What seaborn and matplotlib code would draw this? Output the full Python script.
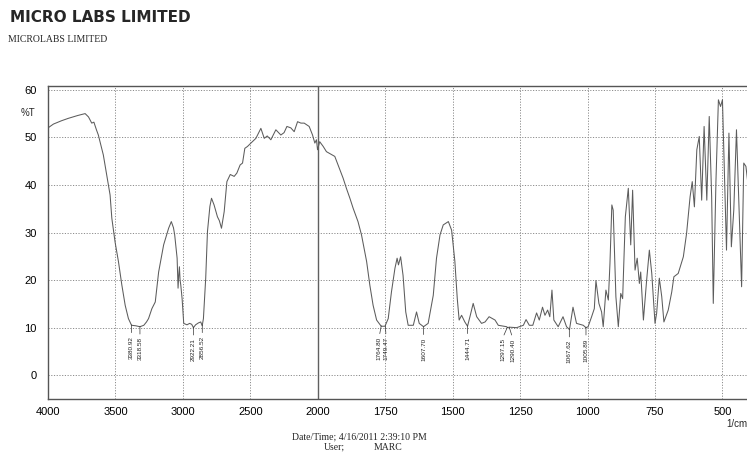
import numpy as np
import pandas as pd
import matplotlib
matplotlib.use("Agg")
import matplotlib.pyplot as plt
from matplotlib.ticker import FixedLocator
import seaborn as sns

# ---------------- data ----------------
wavenumber = [
    4000, 3960, 3900, 3850, 3780, 3725, 3700, 3676, 3660, 3640, 3627, 3590, 3565, 3540, 3527,
    3503, 3478, 3453, 3428, 3404, 3381, 3350, 3319, 3290, 3270, 3255, 3230, 3205, 3180, 3143,
    3106, 3086, 3070, 3061, 3043, 3036, 3031, 3026, 3021, 3016, 3006, 2994, 2970, 2950, 2935,
    2922, 2906, 2885, 2868, 2857, 2848, 2831, 2818, 2800, 2788, 2769, 2744, 2730, 2714, 2694,
    2674, 2649, 2620, 2600, 2576, 2558, 2541, 2521, 2496, 2459, 2422, 2397, 2375, 2348, 2311,
    2274, 2250, 2229, 2200, 2175, 2150, 2125, 2101, 2064, 2039, 2022, 2010, 2002, 1993, 1980,
    1968, 1937, 1925, 1906, 1894, 1881, 1869, 1851, 1838, 1819, 1807, 1795, 1782, 1765, 1751,
    1739, 1727, 1714, 1706, 1701, 1693, 1684, 1674, 1665, 1646, 1634, 1624, 1608, 1591, 1572,
    1560, 1547, 1535, 1516, 1504, 1492, 1483, 1476, 1467, 1455, 1445, 1436, 1424, 1411, 1393,
    1380, 1365, 1352, 1343, 1331, 1300, 1297, 1290, 1263, 1238, 1228, 1216, 1203, 1189, 1179,
    1167, 1158, 1148, 1140, 1132, 1125, 1109, 1091, 1078, 1067, 1054, 1041, 1016, 1006, 998,
    985, 975, 969, 958, 948, 942, 932, 923, 917, 910, 905, 895, 886, 877, 870,
    860, 849, 840, 833, 824, 816, 808, 803, 793, 781, 771, 762, 750, 744, 734,
    725, 717, 701, 688, 680, 664, 645, 633, 620, 612, 604, 595, 586, 577, 568,
    558, 549, 540, 534, 524, 515, 507, 500, 492, 485, 476, 467, 458, 448, 438,
    429, 421, 413, 405,
]
transmittance = [
    52.0, 52.8, 53.5, 54.0, 54.6, 55.0, 54.3, 53.0, 53.2, 51.5, 50.5, 46.3, 42.1, 37.9, 33.0,
    28.0, 23.9, 19.0, 14.7, 11.9, 10.5, 10.4, 10.2, 10.5, 11.2, 11.9, 14.0, 15.4, 21.7, 27.4,
    30.9, 32.3, 31.0, 29.5, 24.6, 18.3, 21.0, 22.8, 20.0, 19.0, 16.1, 10.9, 10.6, 10.9, 10.7,
    10.0, 10.6, 11.0, 11.2, 10.4, 11.9, 20.4, 30.2, 35.5, 37.2, 35.8, 33.3, 32.5, 30.9, 34.4,
    40.7, 42.2, 41.8, 42.5, 44.2, 44.6, 47.7, 48.1, 48.8, 49.8, 51.9, 49.8, 50.3, 49.5, 51.6,
    50.5, 51.0, 52.3, 52.0, 51.2, 53.3, 53.0, 53.0, 52.3, 50.5, 48.8, 49.5, 47.4, 49.1, 48.1,
    47.0, 46.0, 44.2, 41.4, 39.3, 37.2, 35.1, 32.3, 29.5, 23.9, 18.9, 14.7, 11.6, 10.3, 10.3,
    11.9, 17.5, 22.5, 24.6, 23.2, 24.9, 21.0, 13.3, 10.5, 10.5, 13.3, 10.9, 10.2, 10.9, 16.8,
    24.6, 29.5, 31.6, 32.3, 30.5, 24.0, 16.1, 11.6, 12.6, 11.2, 10.3, 12.3, 15.1, 12.3, 10.9,
    11.2, 12.3, 11.9, 11.6, 10.5, 10.2, 10.0, 10.1, 10.0, 10.5, 11.7, 10.5, 10.5, 13.1, 11.6,
    14.3, 12.6, 13.7, 12.3, 17.9, 11.6, 10.2, 12.3, 10.2, 9.6, 14.3, 10.9, 10.5, 10.0, 10.2,
    12.3, 14.0, 19.9, 15.1, 13.3, 10.2, 17.9, 15.8, 23.5, 35.8, 34.7, 16.5, 10.2, 17.2, 16.1,
    33.3, 39.3, 27.4, 38.9, 22.1, 24.6, 19.3, 21.7, 11.6, 20.0, 26.3, 21.4, 10.9, 13.0, 20.4,
    16.5, 11.2, 13.7, 17.5, 20.7, 21.4, 24.9, 29.8, 37.5, 40.7, 35.4, 47.4, 50.2, 36.8, 52.3,
    36.8, 54.4, 37.5, 15.1, 41.0, 57.9, 56.5, 57.9, 41.0, 26.3, 50.9, 27.0, 34.7, 51.6, 34.0,
    18.6, 44.6, 43.9, 40.0,
]

peak_labels = ["3380.92", "3318.58", "2922.21", "2856.52", "1764.80", "1749.47",
               "1607.70", "1444.71", "1297.15", "1290.40", "1067.62", "1005.89"]
peak_wn = [3380.92, 3318.58, 2922.21, 2856.52, 1764.80, 1749.47,
           1607.70, 1444.71, 1297.15, 1290.40, 1067.62, 1005.89]
peak_t = [10.6, 10.3, 10.1, 10.6, 10.4, 10.4, 10.2, 10.4, 10.1, 10.1, 9.7, 10.1]
peak_dx = [0, 0, 0, 0, -1.5, 0.5, 0, 0, -3.5, 2.5, 0, 0]  # label offsets (pt)

xticks_major = [4000, 3500, 3000, 2500, 2000, 1750, 1500, 1250, 1000, 750, 500]
yticks_major = [0, 10, 20, 30, 40, 50, 60]

df = pd.DataFrame({"wn": wavenumber, "T": transmittance})

# ---------------- style ----------------
sns.set_style("white")
plt.rcParams["font.family"] = ["Liberation Sans", "DejaVu Sans"]


def fwd(x):
    x = np.asarray(x, dtype=float)
    return np.where(x >= 2000, (x - 2000) / 500.0, (x - 2000) / 250.0)


def inv(u):
    u = np.asarray(u, dtype=float)
    return np.where(u >= 0, 2000 + 500.0 * u, 2000 + 250.0 * u)


fig = plt.figure(figsize=(7.47, 4.63), dpi=100)
ax = fig.add_axes([0.0643, 0.1382, 0.9357, 0.675])
ax.set_xscale("function", functions=(fwd, inv))

sns.lineplot(data=df, x="wn", y="T", ax=ax, sort=False, estimator=None,
             color="#5c5c5c", lw=0.75)

ax.set_xlim(4000, 409)
ax.set_ylim(-5, 60.7)

minor_x = [v for v in range(3900, 2000, -100) if v % 500] + \
          [v for v in range(1950, 400, -50) if v % 250]
ax.xaxis.set_major_locator(FixedLocator(xticks_major))
ax.xaxis.set_minor_locator(FixedLocator(minor_x))
ax.set_xticklabels([str(v) for v in xticks_major])
ax.yaxis.set_major_locator(FixedLocator(yticks_major))
ax.yaxis.set_minor_locator(FixedLocator([v for v in range(-4, 61, 2) if v % 10]))
ax.set_yticklabels([str(v) for v in yticks_major])

ax.tick_params(axis="x", which="major", direction="out", length=3.5, width=0.7,
               labelsize=8, pad=2, colors="#333333")
ax.tick_params(axis="x", which="minor", direction="out", length=2.5, width=0.6,
               colors="#555555")
ax.tick_params(axis="y", which="major", direction="out", length=7, width=0.7,
               labelsize=8, pad=1, colors="#333333")
ax.tick_params(axis="y", which="minor", direction="out", length=4, width=0.6,
               colors="#555555")
ax.tick_params(labelcolor="black")

ax.grid(which="major", linestyle=(0, (1.2, 1.6)), color="#8c8c8c", lw=0.7)
ax.axvline(2000, color="#606060", lw=1.0)

for side in ["left", "bottom", "top"]:
    ax.spines[side].set_visible(True)
    ax.spines[side].set_color("#555555")
    ax.spines[side].set_linewidth(1.0)
ax.spines["right"].set_visible(False)
ax.set_xlabel("")
ax.set_ylabel("")

# peak annotations
for lab, w, t, dx in zip(peak_labels, peak_wn, peak_t, peak_dx):
    ax.annotate(lab, xy=(w, t), xytext=(dx, -8), textcoords="offset points",
                rotation=90, ha="center", va="top", fontsize=4.6, color="#222222",
                arrowprops=dict(arrowstyle="-", lw=0.5, color="#333333",
                                shrinkA=0, shrinkB=0, relpos=(0.5, 1.0)))

# texts
fig.text(10 / 747, 1 - 17 / 463, "MICRO LABS LIMITED", fontsize=11, fontweight="bold",
         family="DejaVu Sans", va="center", ha="left")
fig.text(8 / 747, 1 - 40 / 463, "MICROLABS LIMITED", fontsize=7,
         family="Liberation Serif", va="center", ha="left")
fig.text(21 / 747, 1 - 113 / 463, "%T", fontsize=7, va="center", ha="left")
fig.text(726 / 747, 1 - 424 / 463, "1/cm", fontsize=7, va="center", ha="left")
fig.text(292 / 747, 1 - 437 / 463, "Date/Time; 4/16/2011 2:39:10 PM", fontsize=7,
         family="Liberation Serif", va="center", ha="left")
fig.text(324 / 747, 1 - 447 / 463, "User;", fontsize=7,
         family="Liberation Serif", va="center", ha="left")
fig.text(374 / 747, 1 - 447 / 463, "MARC", fontsize=7,
         family="Liberation Serif", va="center", ha="left")

fig.savefig("out.png", dpi=100)
